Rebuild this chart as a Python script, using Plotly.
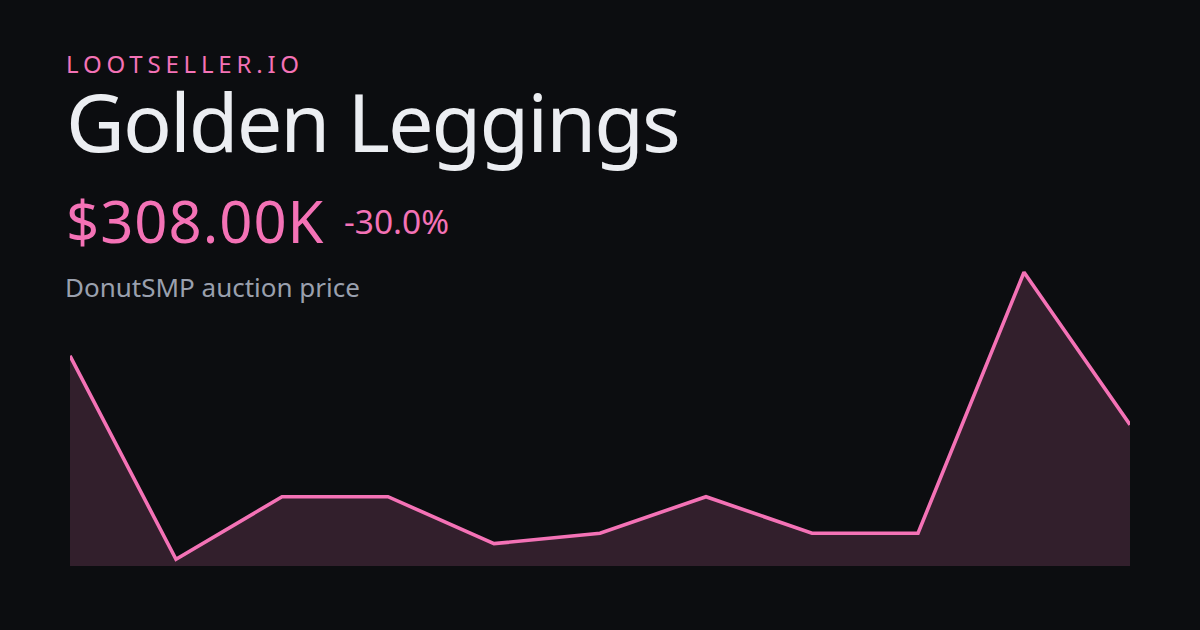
import plotly.graph_objects as go

# Data
points = list(range(11))
prices_k = [440, 50, 170, 170, 80, 100, 170, 100, 100, 600, 308]

brand = "LOOTSELLER.IO"
item_name = "Golden Leggings"
price_label = "$308.00K"
change_label = "-30.0%"
subtitle = "DonutSMP auction price"

BG = "#0c0d10"
PINK = "#f472b6"
FILL = "#321f2c"
WHITE = "#eceef2"
GRAY = "#9aa0ae"
FONT = "Noto Sans"

W, H = 1200, 630
L, R, T, B = 70, 70, 260, 64
pw, ph = W - L - R, H - T - B


def px(x, y):
    return (x - L) / pw, (H - B - y) / ph


fig = go.Figure()
fig.add_trace(go.Scatter(
    x=points, y=prices_k, mode="lines",
    line=dict(color=PINK, width=3.6),
    fill="tozeroy", fillcolor=FILL,
    hoverinfo="skip",
))

annots = []


def add_text(text, x, ymid, size, color, spacing=None):
    ax, ay = px(x, ymid)
    if spacing is not None:
        text = '<span style="letter-spacing:%spx">%s</span>' % (spacing, text)
    annots.append(dict(
        text=text, x=ax, y=ay, xref="paper", yref="paper",
        xanchor="left", yanchor="middle", showarrow=False,
        font=dict(family=FONT, size=size, color=color),
        borderpad=0,
    ))


add_text(brand, 64.5, 63.7, 24, PINK, spacing=4.8)
add_text(item_name, 65, 120.3, 81, WHITE, spacing=-2)
add_text(price_label, 64.5, 220.8, 58, PINK, spacing=1)
add_text(change_label, 343, 221.2, 33.5, PINK)
add_text(subtitle, 64, 287.2, 26, GRAY)

fig.update_layout(
    width=W, height=H, autosize=False,
    margin=dict(l=L, r=R, t=T, b=B),
    paper_bgcolor=BG, plot_bgcolor=BG,
    showlegend=False,
    xaxis=dict(range=[0, 10], visible=False, fixedrange=True),
    yaxis=dict(range=[37.2, 623.5], visible=False, fixedrange=True),
    annotations=annots,
    hovermode=False,
)

fig.write_html(
    "out.html",
    config={"displayModeBar": False},
    post_script="document.body.style.margin='0';document.body.style.background='%s';" % BG,
)
